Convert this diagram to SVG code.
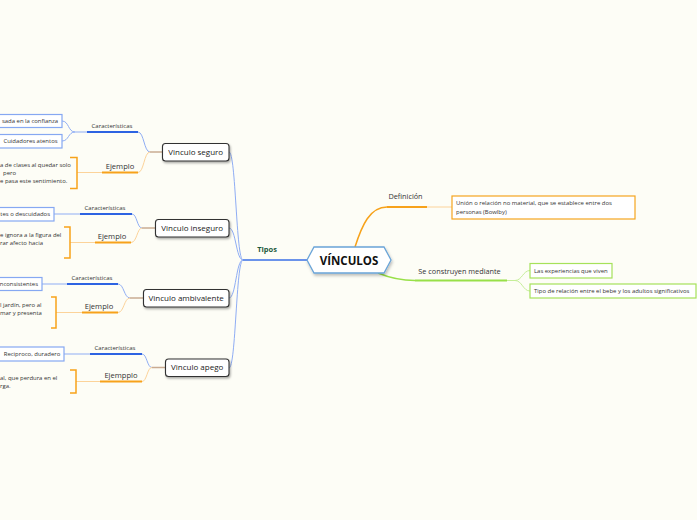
<svg xmlns="http://www.w3.org/2000/svg" width="697" height="520" viewBox="0 0 697 520">
<defs>
<filter id="sh" x="-20%" y="-30%" width="150%" height="180%">
<feDropShadow dx="1" dy="1.5" stdDeviation="1" flood-color="#000" flood-opacity="0.35"/>
</filter>
<filter id="shc" x="-20%" y="-30%" width="150%" height="180%">
<feDropShadow dx="1" dy="2" stdDeviation="1.5" flood-color="#000" flood-opacity="0.25"/>
</filter>
</defs>
<style>
text{font-family:"Open Sans","DejaVu Sans",sans-serif;fill:#333}
.tn{font-size:8px;fill:#222}
.sm{font-size:5.95px}
.lb{font-size:6px}
.ej{font-size:7.6px}
.rb{font-size:7.3px}
.tip{fill:#fff;stroke:#333;stroke-width:1.1}
.lf{fill:#fff;stroke:#86a8f2;stroke-width:1.2}
.lfo{fill:#fff;stroke:#f5a51e;stroke-width:1.2}
.lfg{fill:#fff;stroke:#a6e25a;stroke-width:1.2}
.bt{fill:none;stroke:#2d63e2;stroke-width:2}
.bl{fill:none;stroke:#8fadf4;stroke-width:1}
.ot{fill:none;stroke:#f7a21a;stroke-width:2}
.ol{fill:none;stroke:#fcd39a;stroke-width:1}
.br{fill:none;stroke:#f7a21a;stroke-width:1.5}
.tan{fill:none;stroke:#c9ab92;stroke-width:1.5}
.gt{fill:none;stroke:#98e048;stroke-width:2}
.gl{fill:none;stroke:#c5ee98;stroke-width:1}
</style>
<rect width="697" height="520" fill="#fdfdf6"/>

<g id="connectors">
<path d="M307,260 L243,260" fill="none" stroke="#3a6fe6" stroke-width="1.5"/>
<path class="bl" d="M243,260 C236,260 236,152 229,152"/>
<path class="bl" d="M243,260 C236,260 236,228 229,228"/>
<path class="bl" d="M243,260 C236,260 236,298 229,298"/>
<path class="bl" d="M243,260 C236,260 236,368 229,368"/>
<path class="tan" d="M162,152 L150,152"/>
<path class="bl" d="M150,152 C144,152 144,132 138,132"/>
<path class="bt" d="M138,132 L87,132"/>
<path class="bl" d="M87,132 L75,132 C68,132 69,121 62,121"/>
<path class="bl" d="M75,132 C68,132 69,141 62,141"/>
<path class="ol" d="M150,152 C144,152 144,172.5 138,172.5"/>
<path class="ot" d="M138,172.5 L102,172.5"/>
<path class="ol" d="M102,172.5 L77,172.5"/>
<path class="br" d="M70,157.5 L77,157.5 L77,188.5 L70,188.5"/>
<path class="tan" d="M155,228 L142,228"/>
<path class="bl" d="M142,228 C137,228 137,214 132,214"/>
<path class="bt" d="M132,214 L80,214"/>
<path class="bl" d="M80,214 L54,214"/>
<path class="ol" d="M142,228 C137,228 137,242.5 131,242.5"/>
<path class="ot" d="M131,242.5 L95,242.5"/>
<path class="ol" d="M95,242.5 L70,242.5"/>
<path class="br" d="M64,227 L70,227 L70,258 L64,258"/>
<path class="tan" d="M143,298 L130,298"/>
<path class="bl" d="M130,298 C124,298 124,284 118,284"/>
<path class="bt" d="M118,284 L67,284"/>
<path class="bl" d="M67,284 L42,284"/>
<path class="ol" d="M130,298 C124,298 124,312.5 118,312.5"/>
<path class="ot" d="M118,312.5 L82,312.5"/>
<path class="ol" d="M82,312.5 L56,312.5"/>
<path class="br" d="M51,297 L56,297 L56,328 L51,328"/>
<path class="tan" d="M165,367.5 L152,367.5"/>
<path class="bl" d="M152,367.5 C147,367.5 147,354 142,354"/>
<path class="bt" d="M142,354 L90,354"/>
<path class="bl" d="M90,354 L64,354"/>
<path class="ol" d="M152,367.5 C147,367.5 147,381.5 142,381.5"/>
<path class="ot" d="M142,381.5 L100,381.5"/>
<path class="ol" d="M100,381.5 L76,381.5"/>
<path class="br" d="M70,370 L76,370 L76,393 L70,393"/>
<path d="M355,247 C362,225 370,207 387,207" fill="none" stroke="#f7a21a" stroke-width="1.5"/>
<path class="ot" d="M387,207 L427,207"/>
<path class="ol" d="M427,207 L452,207"/>
<path d="M378,273 C390,278 400,280.5 415,280.5" fill="none" stroke="#98e048" stroke-width="1.5"/>
<path class="gt" d="M415,280.5 L507,280.5"/>
<path class="gl" d="M507,280.5 L515,280.5 C522,280.5 523,270.5 530,270.5"/>
<path class="gl" d="M515,280.5 C522,280.5 523,291 530,291"/>
</g>

<g id="central">
<path d="M307,260 L314,247 L384,247 L391,260 L384,273 L314,273 Z" fill="#fff" stroke="#6aa4d8" stroke-width="1.3" filter="url(#shc)"/>
<text x="349" y="264.5" text-anchor="middle" style="font-size:11.5px;font-weight:bold;fill:#111">VÍNCULOS</text>
</g>

<g id="tipos-label"><text x="267" y="252" text-anchor="middle" style="font-size:7.5px;font-weight:bold;fill:#1f5a3e">Tipos</text></g>

<g id="vinculo-seguro">
<rect class="tip" x="162.5" y="143.5" width="66.5" height="17.5" rx="3" filter="url(#sh)"/>
<text class="tn" x="195.7" y="154.9" text-anchor="middle">Vinculo seguro</text>
</g>
<g id="vinculo-inseguro">
<rect class="tip" x="155.5" y="219.5" width="73.5" height="17.5" rx="3" filter="url(#sh)"/>
<text class="tn" x="192.2" y="230.9" text-anchor="middle">Vinculo inseguro</text>
</g>
<g id="vinculo-ambivalente">
<rect class="tip" x="143.5" y="289.5" width="85.5" height="17.5" rx="3" filter="url(#sh)"/>
<text class="tn" x="186.2" y="300.9" text-anchor="middle">Vinculo ambivalente</text>
</g>
<g id="vinculo-apego">
<rect class="tip" x="165.5" y="359" width="63.5" height="17.5" rx="3" filter="url(#sh)"/>
<text class="tn" x="197.2" y="370.4" text-anchor="middle">Vinculo apego</text>
</g>

<g id="seguro-caracteristicas"><text class="lb" x="112" y="127.5" text-anchor="middle">Características</text></g>
<g id="seguro-leaf1"><rect class="lf" x="-20" y="114.5" width="82" height="13"/><text class="sm" x="58" y="123" text-anchor="end">sada en la confianza</text></g>
<g id="seguro-leaf2"><rect class="lf" x="-1" y="134.5" width="63" height="13.5"/><text class="sm" x="30.5" y="143.3" text-anchor="middle">Cuidadores atentos</text></g>
<g id="seguro-ejemplo"><text class="ej" x="120" y="168.5" text-anchor="middle">Ejemplo</text></g>
<g id="seguro-ejemplo-text">
<text class="sm" x="0" y="167">a de clases al quedar solo</text>
<text class="sm" x="3" y="175">pero</text>
<text class="sm" x="0" y="183">e pasa este sentimiento.</text>
</g>

<g id="inseguro-caracteristicas"><text class="lb" x="105" y="209.5" text-anchor="middle">Características</text></g>
<g id="inseguro-leaf"><rect class="lf" x="-20" y="207.5" width="74" height="13.5"/><text class="sm" x="50" y="216.3" text-anchor="end">tes o descuidados</text></g>
<g id="inseguro-ejemplo"><text class="ej" x="112" y="238.5" text-anchor="middle">Ejemplo</text></g>
<g id="inseguro-ejemplo-text">
<text class="sm" x="0" y="237">e ignora a la figura del</text>
<text class="sm" x="0" y="245">rar afecto hacia</text>
</g>

<g id="ambivalente-caracteristicas"><text class="lb" x="92" y="279.5" text-anchor="middle">Características</text></g>
<g id="ambivalente-leaf"><rect class="lf" x="-20" y="277.5" width="62" height="13"/><text class="sm" x="38" y="286" text-anchor="end">nconsistentes</text></g>
<g id="ambivalente-ejemplo"><text class="ej" x="99" y="308.5" text-anchor="middle">Ejemplo</text></g>
<g id="ambivalente-ejemplo-text">
<text class="sm" x="0" y="307">l jardín, pero al</text>
<text class="sm" x="0" y="315">mar y presenta</text>
</g>

<g id="apego-caracteristicas"><text class="lb" x="115" y="349.5" text-anchor="middle">Características</text></g>
<g id="apego-leaf"><rect class="lf" x="-1" y="347" width="65" height="14"/><text class="sm" x="32" y="356" text-anchor="middle">Reciproco, duradero</text></g>
<g id="apego-ejemplo"><text class="ej" x="121" y="377.5" text-anchor="middle">Ejempplo</text></g>
<g id="apego-ejemplo-text">
<text class="sm" x="0" y="380">al, que perdura en el</text>
<text class="sm" x="0" y="388">rga.</text>
</g>

<g id="definicion"><text class="rb" x="405.5" y="199" text-anchor="middle">Definición</text></g>
<g id="definicion-leaf">
<rect class="lfo" x="452" y="196" width="183" height="23"/>
<text class="sm" x="456" y="205">Unión o relación no material, que se establece entre dos</text>
<text class="sm" x="456" y="214">personas (Bowlby)</text>
</g>

<g id="se-construyen"><text class="rb" x="459.5" y="273.5" text-anchor="middle">Se construyen mediante</text></g>
<g id="experiencias"><rect class="lfg" x="530" y="263.5" width="82" height="14.5"/><text class="sm" x="534" y="272.8">Las experiencias que viven</text></g>
<g id="tipo-relacion"><rect class="lfg" x="530" y="284" width="166" height="14"/><text class="sm" x="534" y="293">Tipo de relación  entre el bebe y los adultos significativos</text></g>
</svg>
